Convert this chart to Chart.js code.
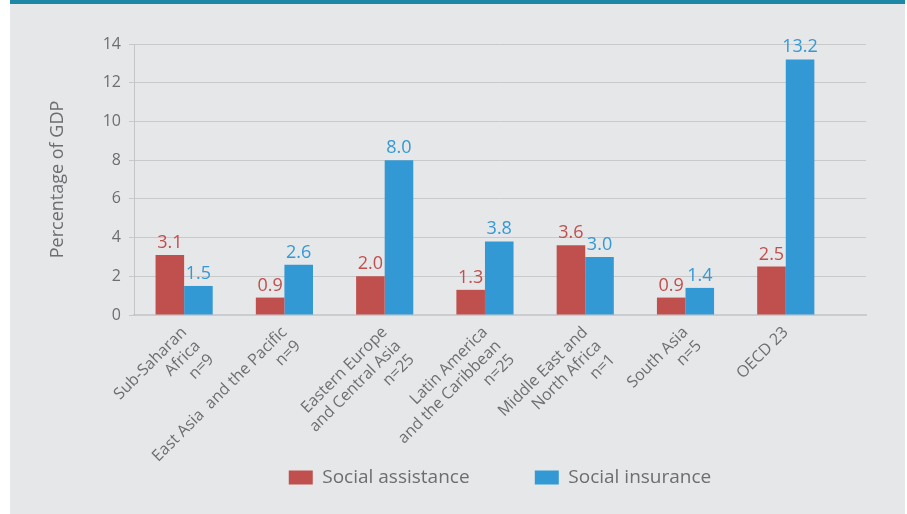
<!DOCTYPE html>
<html>
<head>
<meta charset="utf-8">
<script src="https://cdn.jsdelivr.net/npm/chart.js@4.4.0/dist/chart.umd.min.js"></script>
<style>
  body { margin: 0; background: #ffffff; }
  #panel { position: absolute; left: 10px; top: 0; width: 895px; height: 514px; background: #e6e7e9; }
  #topbar { position: absolute; left: 0; top: 0; width: 895px; height: 4px; background: #1d87a5; }
  #chart { position: absolute; left: 0; top: 0; }
</style>
</head>
<body>
<div id="panel">
  <canvas id="chart" width="895" height="514"></canvas>
  <div id="topbar"></div>
</div>
<script>
const categories = [
  ['Sub-Saharan', 'Africa', 'n=9'],
  ['East Asia  and the Pacific', 'n=9'],
  ['Eastern Europe', 'and Central Asia', 'n=25'],
  ['Latin America', 'and the Caribbean', 'n=25'],
  ['Middle East and', 'North Africa', 'n=1'],
  ['South Asia', 'n=5'],
  ['OECD 23']
];
const socialAssistance = [3.1, 0.9, 2.0, 1.3, 3.6, 0.9, 2.5];
const socialInsurance = [1.5, 2.6, 8.0, 3.8, 3.0, 1.4, 13.2];
const yMin = 0;
const yMax = 14;
const yStep = 2;

const textGray = '#6d6e71';
const fontFamily = '"Open Sans", sans-serif';

// value labels above each bar
const barLabels = {
  id: 'barLabels',
  afterDatasetsDraw(chart) {
    const ctx = chart.ctx;
    ctx.save();
    ctx.font = '18px ' + fontFamily;
    ctx.textAlign = 'center';
    ctx.textBaseline = 'alphabetic';
    chart.data.datasets.forEach((ds, i) => {
      chart.getDatasetMeta(i).data.forEach((bar, j) => {
        ctx.fillStyle = ds.labelColor;
        ctx.fillText(ds.data[j].y.toFixed(1), bar.x, bar.y - 7);
      });
    });
    ctx.restore();
  }
};

// category index on a linear axis, so the plot can run a bit past the last group
const toPoints = (arr) => arr.map((v, i) => ({ x: i, y: v }));

const ctx = document.getElementById('chart').getContext('2d');
const chart = new Chart(ctx, {
  type: 'bar',
  data: {
    datasets: [
      {
        label: 'Social assistance',
        data: toPoints(socialAssistance),
        backgroundColor: '#c0504d',
        labelColor: '#c0504d',
        categoryPercentage: 0.57,
        barPercentage: 1.0
      },
      {
        label: 'Social insurance',
        data: toPoints(socialInsurance),
        backgroundColor: '#3399d4',
        labelColor: '#3399d4',
        categoryPercentage: 0.57,
        barPercentage: 1.0
      }
    ]
  },
  options: {
    responsive: false,
    animation: false,
    layout: {
      padding: { left: 33, right: 39, top: 44, bottom: 17 }
    },
    plugins: {
      tooltip: { enabled: false },
      legend: {
        position: 'bottom',
        fullSize: false,
        labels: {
          color: textGray,
          font: { family: fontFamily, size: 19 },
          boxWidth: 24,
          boxHeight: 14,
          padding: 6,
          generateLabels(chart) {
            const items = Chart.defaults.plugins.legend.labels.generateLabels(chart);
            // blank spacer between the two entries
            items.splice(1, 0, {
              text: '    ',
              fillStyle: 'transparent',
              strokeStyle: 'transparent',
              lineWidth: 0,
              hidden: false,
              datasetIndex: -1
            });
            return items;
          }
        }
      }
    },
    scales: {
      x: {
        type: 'linear',
        min: -0.5,
        max: 6.8,
        offset: false,
        grid: { color: 'transparent', drawTicks: false, offset: false },
        border: { display: true, color: '#cbcccf', width: 2 },
        afterBuildTicks(scale) {
          scale.ticks = categories.map((c, i) => ({ value: i }));
        },
        ticks: {
          color: textGray,
          font: { family: fontFamily, size: 16, lineHeight: 1.2 },
          minRotation: 45,
          maxRotation: 45,
          autoSkip: false,
          padding: 8,
          callback: (value) => categories[value]
        },
        afterFit(scale) { scale.height = 147; }
      },
      y: {
        min: yMin,
        max: yMax,
        grid: { color: '#c8c9cb', tickLength: 5 },
        border: { display: true, color: '#c4c5c7' },
        ticks: {
          stepSize: yStep,
          color: textGray,
          font: { family: fontFamily, size: 16 },
          padding: 8
        },
        title: {
          display: true,
          text: 'Percentage of GDP',
          color: textGray,
          font: { family: fontFamily, size: 18 },
          padding: { top: 4, bottom: 4 }
        },
        afterFit(scale) { scale.width = 91; }
      }
    }
  },
  plugins: [barLabels]
});
</script>
</body>
</html>
